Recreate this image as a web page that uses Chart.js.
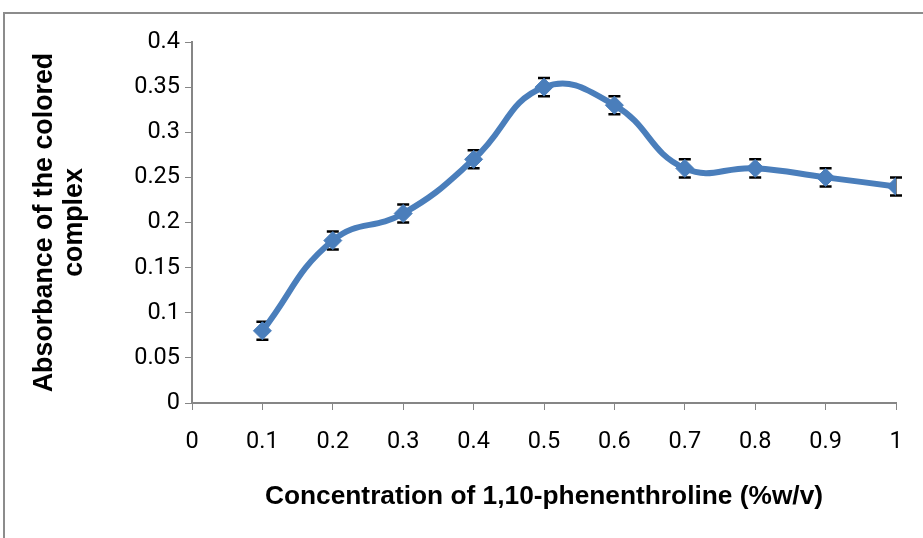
<!DOCTYPE html>
<html>
<head>
<meta charset="utf-8">
<script src="https://cdn.jsdelivr.net/npm/chart.js@4"></script>
<style>
  html, body { margin: 0; padding: 0; background: #fff; }
  #wrap { position: relative; width: 923px; height: 538px; overflow: hidden; }
  #frame { position: absolute; left: 3px; top: 12px; width: 2000px; height: 2000px; border: 2px solid #8c8c8c; }
  canvas { position: absolute; left: 0; top: 0; }
</style>
</head>
<body>
<div id="wrap">
  <div id="frame"></div>
  <canvas id="absChart" width="923" height="538"></canvas>
</div>
<script>
// Data
const concentrations = [0.1, 0.2, 0.3, 0.4, 0.5, 0.6, 0.7, 0.8, 0.9, 1.0];
const absorbance = [0.08, 0.18, 0.21, 0.27, 0.35, 0.33, 0.26, 0.26, 0.25, 0.24];
const errors = [0.01, 0.01, 0.01, 0.01, 0.01, 0.01, 0.01, 0.01, 0.01, 0.01];
const yTicks = [0, 0.05, 0.1, 0.15, 0.2, 0.25, 0.3, 0.35, 0.4];

const tickFont = { family: "Roboto, 'DejaVu Sans Condensed', sans-serif", size: 23.5 };
const xTitleFont = { family: "'Liberation Sans', Arial, sans-serif", size: 26.3, weight: 'bold', lineHeight: 1.25 };
const yTitleFont = { family: "'Liberation Sans', Arial, sans-serif", size: 26.8, weight: 'bold', lineHeight: 1.12 };
const axisColor = '#868686';

// Error bars drawn from the data through the scales
const errorBars = {
    id: 'errorBars',
    beforeDatasetsDraw(chart) {
        const ctx = chart.ctx;
        const xs = chart.scales.x, ys = chart.scales.y;
        ctx.save();
        ctx.strokeStyle = '#000';
        concentrations.forEach((c, i) => {
            const px = xs.getPixelForValue(c);
            const top = ys.getPixelForValue(absorbance[i] + errors[i]);
            const bot = ys.getPixelForValue(absorbance[i] - errors[i]);
            ctx.lineWidth = 1;
            ctx.beginPath();
            ctx.moveTo(px, top); ctx.lineTo(px, bot);
            ctx.stroke();
            ctx.lineWidth = 2.5;
            ctx.beginPath();
            ctx.moveTo(px - 6, top); ctx.lineTo(px + 6, top);
            ctx.moveTo(px - 6, bot); ctx.lineTo(px + 6, bot);
            ctx.stroke();
        });
        ctx.restore();
    }
};

const ctx = document.getElementById('absChart').getContext('2d');
const absChart = new Chart(ctx, {
    type: 'line',
    data: {
        datasets: [{
            data: concentrations.map((c, i) => ({ x: c, y: absorbance[i] })),
            borderColor: '#4a7ebb',
            backgroundColor: '#4a7ebb',
            borderWidth: 6,
            tension: 0.45,
            pointStyle: 'rectRot',
            pointRadius: 9,
            pointBorderWidth: 1,
            pointBorderColor: '#4a7ebb',
            pointBackgroundColor: '#4a7ebb'
        }]
    },
    options: {
        responsive: false,
        animation: false,
        layout: { padding: { left: 0, top: 42, right: 27, bottom: 0 } },
        plugins: { legend: { display: false }, tooltip: { enabled: false } },
        scales: {
            x: {
                type: 'linear',
                min: 0,
                max: 1,
                ticks: { stepSize: 0.1, color: '#000', font: tickFont, padding: 18,
                         callback: v => String(Math.round(v * 10) / 10) },
                grid: { drawOnChartArea: false, drawTicks: true, tickLength: 7, color: axisColor, lineWidth: 1 },
                border: { color: axisColor, width: 2 },
                title: { display: true, text: 'Concentration of 1,10-phenenthroline (%w/v)', color: '#000',
                         font: xTitleFont, padding: { top: 0, bottom: 25 } },
                afterFit(scale) { scale.height = 135; }
            },
            y: {
                min: 0,
                max: 0.4,
                afterBuildTicks(scale) { scale.ticks = yTicks.map(v => ({ value: v })); },
                ticks: { color: '#000', font: tickFont, padding: 5,
                         callback: v => String(Math.round(v * 100) / 100) },
                grid: { drawOnChartArea: false, drawTicks: true, tickLength: 7, color: axisColor, lineWidth: 1 },
                border: { color: axisColor, width: 2 },
                title: { display: true, text: ['Absorbance of the colored', 'complex'], color: '#000',
                         font: yTitleFont, padding: { top: 30, bottom: 0 } },
                afterFit(scale) { scale.width = 192; }
            }
        }
    },
    plugins: [errorBars]
});
</script>
</body>
</html>
